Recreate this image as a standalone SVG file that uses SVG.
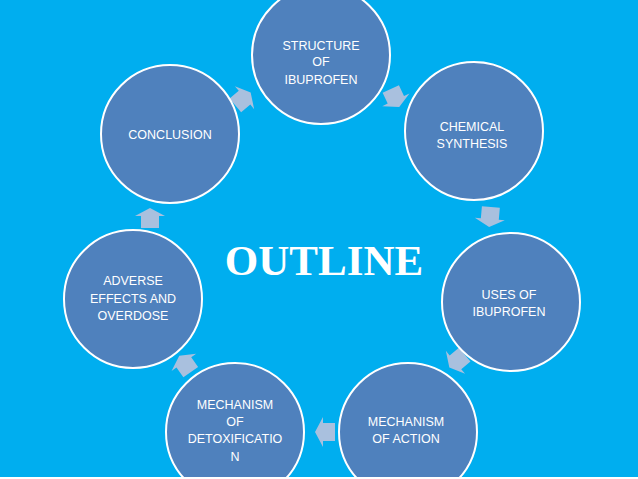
<svg xmlns="http://www.w3.org/2000/svg" width="638" height="479" viewBox="0 0 638 479">
<style>
.c{fill:#4F81BD;stroke:#FFFFFF;stroke-width:2}
.t{font-family:"Liberation Sans",Arial,sans-serif;font-size:12.5px;fill:#FFFFFF;text-anchor:middle}
.a{fill:#A9C0DE}
</style>
<defs>
<polygon id="arr" points="-10,-9 2,-9 2,-15 10,0 2,15 2,9 -10,9"/>
</defs>
<rect x="0" y="0" width="638" height="479" fill="#00AEEF"/>
<g id="connectors">
<use href="#arr" class="a" transform="translate(243,99) rotate(-40)"/>
<use href="#arr" class="a" transform="translate(395,98) rotate(65)"/>
<use href="#arr" class="a" transform="translate(490,217) rotate(95)"/>
<use href="#arr" class="a" transform="translate(457,361) rotate(140)"/>
<use href="#arr" class="a" transform="translate(325,432) rotate(180)"/>
<use href="#arr" class="a" transform="translate(185,364) rotate(235)"/>
<use href="#arr" class="a" transform="translate(150,218) rotate(270)"/>
</g>
<g id="structure">
<circle class="c" cx="321" cy="55" r="69"/>
<text class="t" x="321" y="50">STRUCTURE</text>
<text class="t" x="321" y="66">OF</text>
<text class="t" x="321" y="84">IBUPROFEN</text>
</g>
<g id="chemical">
<circle class="c" cx="474" cy="131" r="69"/>
<text class="t" x="472" y="131">CHEMICAL</text>
<text class="t" x="472" y="148">SYNTHESIS</text>
</g>
<g id="uses">
<circle class="c" cx="511" cy="302" r="69"/>
<text class="t" x="509" y="299">USES OF</text>
<text class="t" x="509" y="316">IBUPROFEN</text>
</g>
<g id="action">
<circle class="c" cx="408" cy="432" r="69"/>
<text class="t" x="406" y="426">MECHANISM</text>
<text class="t" x="406" y="443">OF ACTION</text>
</g>
<g id="detox">
<circle class="c" cx="235" cy="432" r="69"/>
<text class="t" x="235" y="409">MECHANISM</text>
<text class="t" x="235" y="426">OF</text>
<text class="t" x="235" y="443">DETOXIFICATIO</text>
<text class="t" x="235" y="461">N</text>
</g>
<g id="adverse">
<circle class="c" cx="133" cy="299" r="69"/>
<text class="t" x="133" y="285">ADVERSE</text>
<text class="t" x="133" y="303">EFFECTS AND</text>
<text class="t" x="133" y="320">OVERDOSE</text>
</g>
<g id="conclusion">
<circle class="c" cx="170" cy="134" r="69"/>
<text class="t" x="170" y="139">CONCLUSION</text>
</g>
<text x="324" y="275" font-family="Liberation Serif,'Times New Roman',serif" font-weight="bold" font-size="43" fill="#FFFFFF" text-anchor="middle">OUTLINE</text>
<rect x="0" y="477" width="638" height="2" fill="#FFFFFF"/>
</svg>
